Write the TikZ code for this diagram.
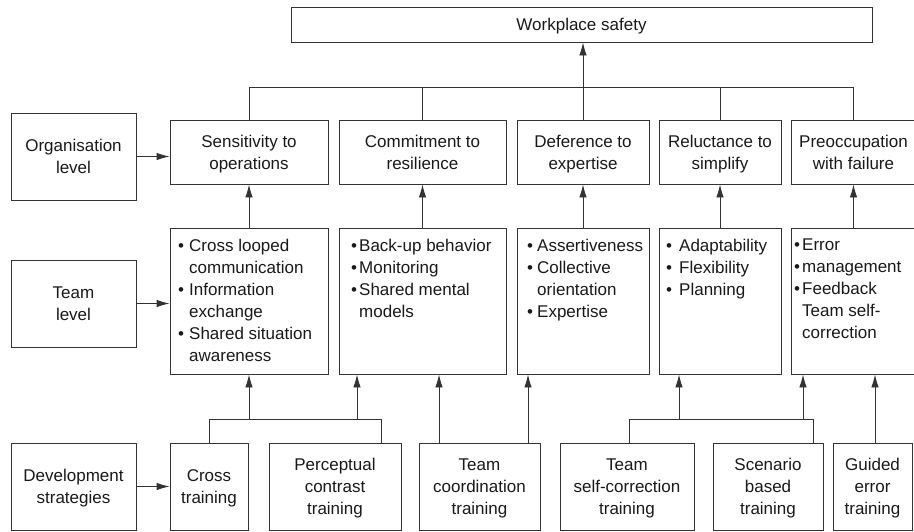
\documentclass[tikz,border=0pt]{standalone}
\usepackage{fontspec}
\setmainfont{Liberation Sans}
\usetikzlibrary{arrows.meta}
\newcommand{\bitem}[2][10pt]{\makebox[#1][l]{\textbullet}#2}
\newcommand{\citem}[2][10pt]{\hspace*{#1}#2}
\begin{document}
\begin{tikzpicture}[x=1pt,y=-1pt,
  box/.style={draw=black!80, line width=0.9pt, inner sep=0pt, align=center, text=black!90,
    text depth=0pt, font=\fontsize{17}{22}\selectfont},
  list/.style={inner sep=0pt, anchor=north west, align=left, text=black!90,
    font=\fontsize{17}{22}\selectfont},
  conn/.style={draw=black!80, line width=0.9pt},
  arr/.style={conn, -{Latex[length=13pt,width=7.5pt]}}]
\useasboundingbox (0,0) rectangle (914,531);
\clip (0,0) rectangle (914,531);

% top
\node[box, minimum width=581pt, minimum height=35pt] (ws) at (581.5,24.5) {Workplace safety};

% left labels
\node[box, minimum width=125pt, minimum height=87pt] (org) at (73.5,156.5) {Organisation\\level};
\node[box, minimum width=125pt, minimum height=87pt] (team) at (73.5,303.5) {Team\\level};
\node[box, minimum width=125pt, minimum height=87pt] (dev) at (73.5,486.5) {Development\\strategies};

% organisation level
\node[box, minimum width=158pt, minimum height=64pt] (s1) at (249,152) {Sensitivity to\\operations};
\node[box, minimum width=167pt, minimum height=64pt] (s2) at (422.5,152) {Commitment to\\resilience};
\node[box, minimum width=132pt, minimum height=64pt] (s3) at (583,152) {Deference to\\expertise};
\node[box, minimum width=122pt, minimum height=64pt] (s4) at (720,152) {Reluctance to\\simplify};
\node[box, minimum width=125pt, minimum height=64pt] (s5) at (853.5,152) {Preoccupation\\with failure};

% team level boxes
\node[box, minimum width=158pt, minimum height=146pt] (t1) at (249,301) {};
\node[box, minimum width=167pt, minimum height=146pt] (t2) at (422.5,301) {};
\node[box, minimum width=132pt, minimum height=146pt] (t3) at (583,301) {};
\node[box, minimum width=122pt, minimum height=146pt] (t4) at (720,301) {};
\node[box, minimum width=125pt, minimum height=146pt] (t5) at (853.5,301) {};

% team level texts
\node[list] (l1) at (178,239) {\bitem[11pt]{Cross looped}\\\citem[11pt]{communication}\\\bitem[11pt]{Information}\\\citem[11pt]{exchange}\\\bitem[11pt]{Shared situation}\\\citem[11pt]{awareness}};
\node[list] (l2) at (351,239) {\bitem[8pt]{Back-up behavior}\\\bitem[8pt]{Monitoring}\\\bitem[8pt]{Shared mental}\\\citem[8pt]{models}};
\node[list] (l3) at (527,239) {\bitem[10pt]{Assertiveness}\\\bitem[10pt]{Collective}\\\citem[10pt]{orientation}\\\bitem[10pt]{Expertise}};
\node[list] (l4) at (666,239) {\bitem[13pt]{Adaptability}\\\bitem[13pt]{Flexibility}\\\bitem[13pt]{Planning}};
\node[list] (l5) at (794,239) {\bitem[8pt]{Error}\\\bitem[8pt]{management}\\\bitem[8pt]{Feedback}\\\citem[8pt]{Team self-}\\\citem[8pt]{correction}};

% development strategies
\node[box, minimum width=78pt, minimum height=87pt] (d1) at (209,486.5) {Cross\\training};
\node[box, minimum width=132pt, minimum height=87pt] (d2) at (335,486.5) {Perceptual\\contrast\\training};
\node[box, minimum width=121pt, minimum height=87pt] (d3) at (479.5,486.5) {Team\\coordination\\training};
\node[box, minimum width=134pt, minimum height=87pt] (d4) at (627,486.5) {Team\\self-correction\\training};
\node[box, minimum width=110pt, minimum height=87pt] (d5) at (768,486.5) {Scenario\\based\\training};
\node[box, minimum width=79pt, minimum height=87pt] (d6) at (872.5,486.5) {Guided\\error\\training};

% left arrows
\draw[arr] (org.east) -- (org.east -| s1.west);
\draw[arr] (team.east) -- (team.east -| t1.west);
\draw[arr] (dev.east) -- (dev.east -| d1.west);

% top connectors
\coordinate (topbar) at (0,87);
\draw[conn] (s1.north) |- (topbar -| s5.north) -- (s5.north);
\draw[conn] (s2.north) -- (s2.north |- topbar);
\draw[conn] (s4.north) -- (s4.north |- topbar);
\draw[arr] (s3.north) -- (s3.north |- ws.south);

% team -> organisation
\draw[arr] (t1.north) -- (s1.south);
\draw[arr] (t2.north) -- (s2.south);
\draw[arr] (t3.north) -- (s3.south);
\draw[arr] (t4.north) -- (s4.south);
\draw[arr] (t5.north) -- (s5.south);

% development -> team
\coordinate (br) at (0,419);
\coordinate (d2t) at ([xshift=46pt]d2.north);
\draw[conn] (d1.north) |- (d2t |- br) -- (d2t);
\coordinate (a2) at ([xshift=-65.5pt]t2.south);
\draw[arr] (t1.south |- br) -- (t1.south);
\draw[arr] (a2 |- br) -- (a2);

\coordinate (d3l) at ([xshift=-40.5pt]d3.north);
\coordinate (d3r) at ([xshift=48.5pt]d3.north);
\draw[arr] (d3l) -- (d3l |- t2.south);
\draw[arr] (d3r) -- (d3r |- t3.south);

\coordinate (d4t) at ([xshift=2pt]d4.north);
\coordinate (d5t) at ([xshift=45pt]d5.north);
\draw[conn] (d4t) |- (d5t |- br) -- (d5t);
\coordinate (a4) at ([xshift=-41pt]t4.south);
\coordinate (a5) at ([xshift=-50.5pt]t5.south);
\draw[arr] (a4 |- br) -- (a4);
\draw[arr] (a5 |- br) -- (a5);

\coordinate (d6t) at ([xshift=2.5pt]d6.north);
\draw[arr] (d6t) -- (d6t |- t5.south);
\end{tikzpicture}
\end{document}
